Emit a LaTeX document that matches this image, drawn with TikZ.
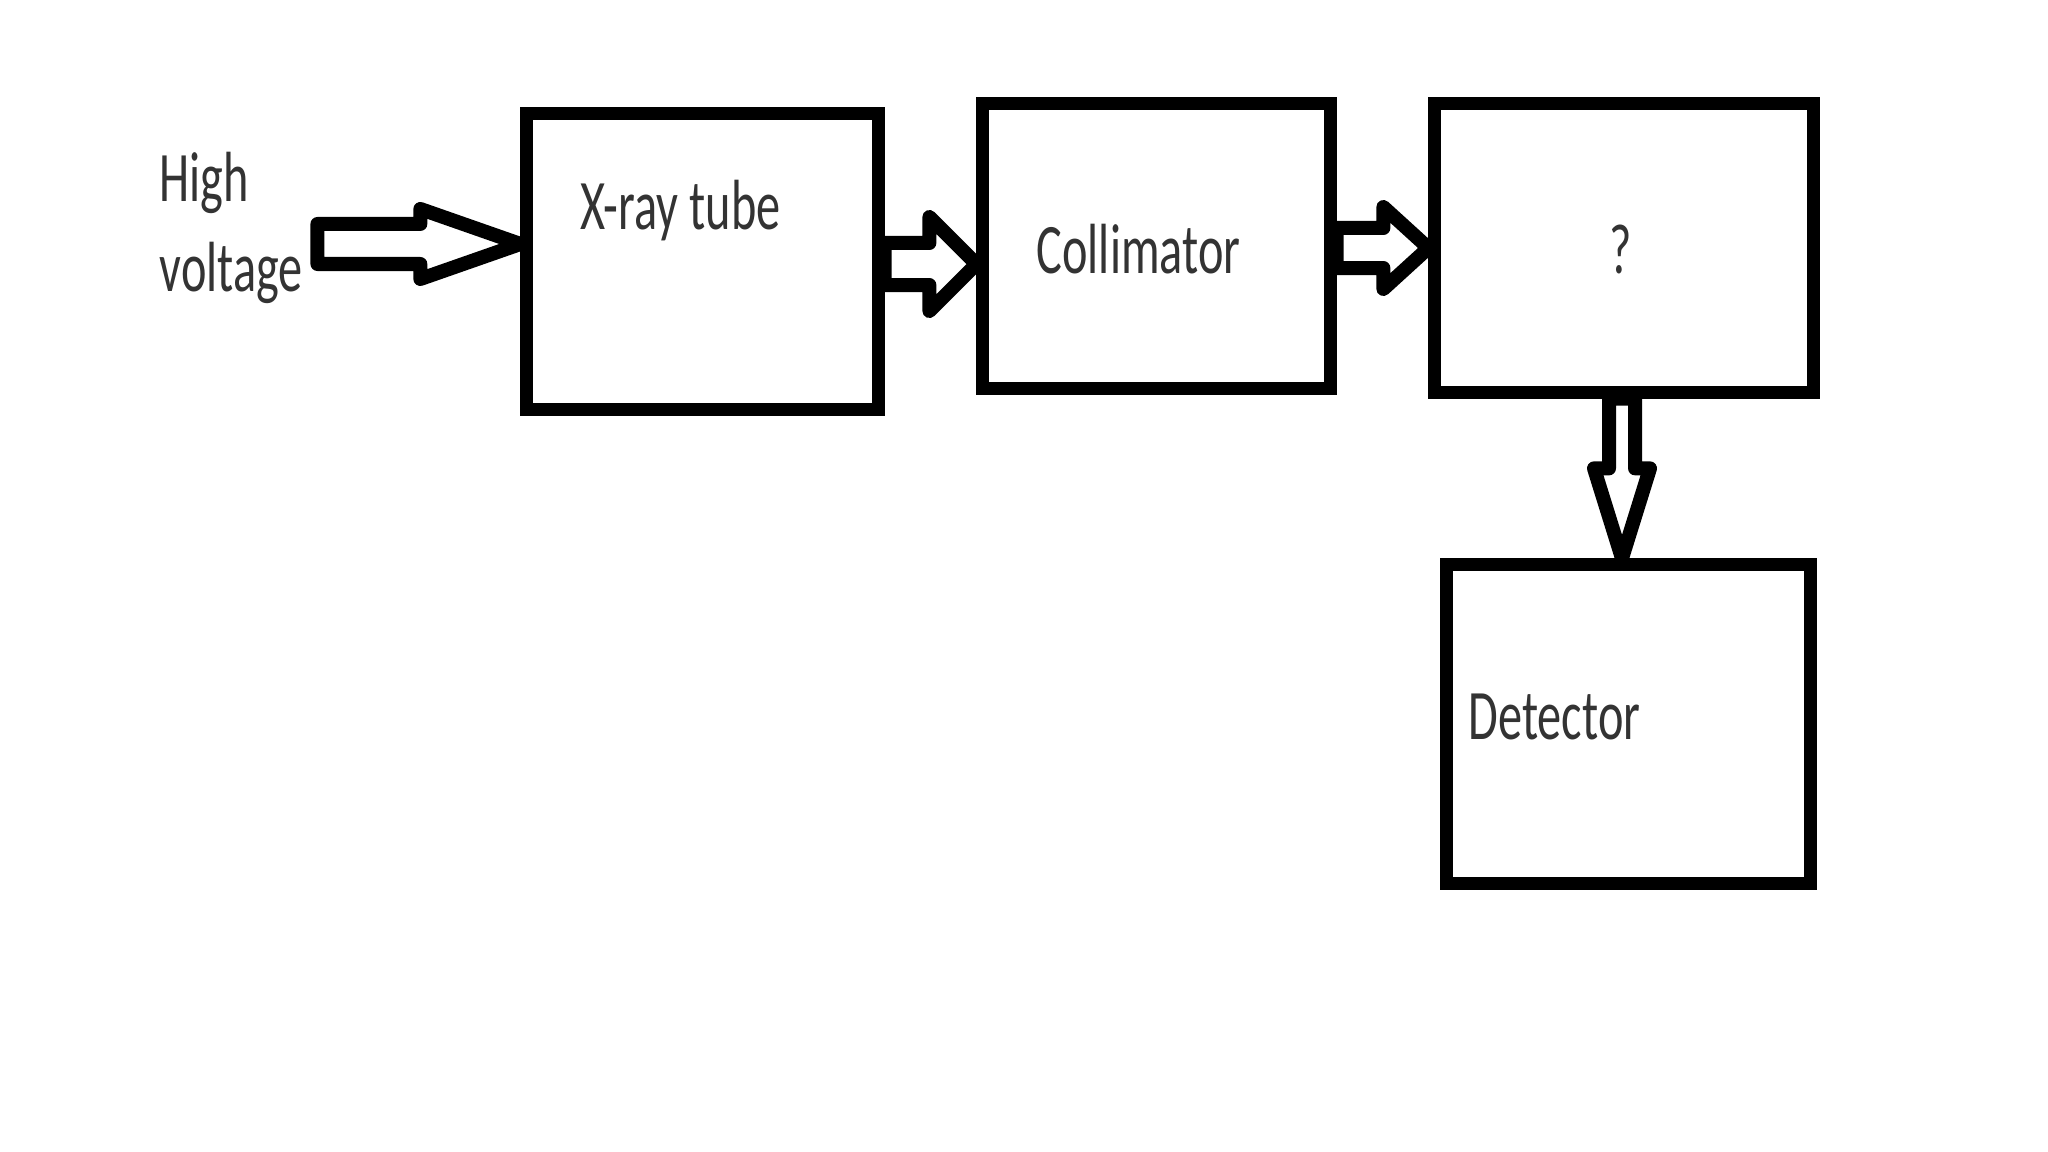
\documentclass[tikz,border=0pt]{standalone}
\usepackage{fontspec}
\setmainfont{Carlito}[FakeStretch=0.68]
\usetikzlibrary{calc}

\tikzset{
  blockbox/.style={draw, line width=0.13cm, inner sep=0pt},
  hollow/.style={draw, line width=0.14cm, line join=round},
  lbl/.style={inner sep=0pt, anchor=base west, text=black!80,
    font=\fontsize{20.2}{25.6}\selectfont}
}

% hollow arrow pointing right: tail (x only), tip, head length, head half, shaft half
\newcommand{\harrow}[5]{%
  \draw[hollow] let \p1=(#1), \p2=(#2) in
    (\p2) -- (\x2-#3,\y2+#4) -- (\x2-#3,\y2+#5) -- (\x1,\y2+#5)
    -- (\x1,\y2-#5) -- (\x2-#3,\y2-#5) -- (\x2-#3,\y2-#4) -- cycle;}
% hollow arrow pointing down
\newcommand{\varrow}[5]{%
  \draw[hollow] let \p1=(#1), \p2=(#2) in
    (\p2) -- (\x2+#4,\y2+#3) -- (\x2+#5,\y2+#3) -- (\x2+#5,\y1)
    -- (\x2-#5,\y1) -- (\x2-#5,\y2+#3) -- (\x2-#4,\y2+#3) -- cycle;}

\begin{document}
\begin{tikzpicture}[x=0.01cm, y=-0.01cm]
  \useasboundingbox[fill=white] (0,0) rectangle (2048,1152);

  % blocks
  \node[blockbox, minimum width=3.51cm, minimum height=2.95cm] (tube) at (702.5,261.5) {};
  \node[blockbox, minimum width=3.47cm, minimum height=2.84cm] (coll) at (1156.5,246) {};
  \node[blockbox, minimum width=3.78cm, minimum height=2.88cm] (qbox) at (1624,248) {};
  \node[blockbox, minimum width=3.63cm, minimum height=3.18cm] (det) at (1628.5,724) {};

  % labels
  \node[lbl, align=left] (hv) at (159,292) {High\\voltage};
  \node[lbl] (tubetxt) at (580,230) {X-ray tube};
  \node[lbl] (colltxt) at (1036,274) {Collimator};
  \node[lbl] (qtxt) at (1609,274) {?};
  \node[lbl] (dettxt) at (1468,739) {Detector};

  % arrows
  \harrow{$(hv.east)+(0.14cm,0)$}{$(tube.west)+(0,0.175cm)$}{1.0cm}{0.35cm}{0.2cm}
  \harrow{tube.east}{$(coll.west)+(0,-0.18cm)$}{0.47cm}{0.47cm}{0.21cm}
  \harrow{coll.east}{qbox.west}{0.45cm}{0.41cm}{0.2cm}
  \varrow{qbox.south}{$(det.north)+(-0.065cm,0)$}{0.9cm}{0.28cm}{0.13cm}
\end{tikzpicture}
\end{document}
